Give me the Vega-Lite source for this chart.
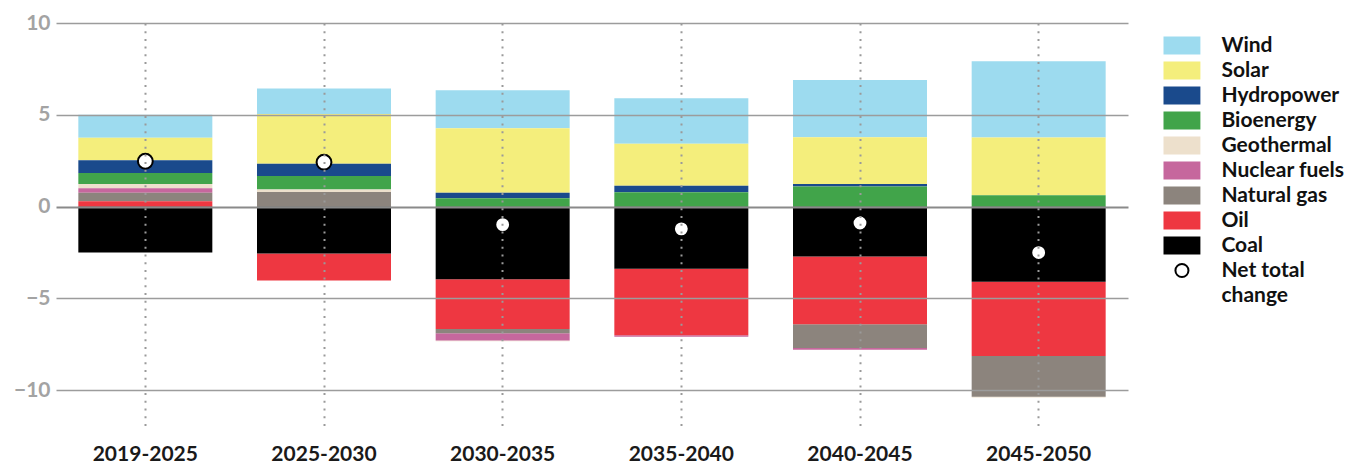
{
  "$schema": "https://vega.github.io/schema/vega-lite/v6.json",
  "width": 1072,
  "height": 404,
  "autosize": "none",
  "padding": {"left": 56, "top": 23, "right": 226, "bottom": 36},
  "background": "white",
  "config": {
    "view": {"stroke": null},
    "font": "Lato",
    "style": {"guide-label": {"lineHeight": 25}}
  },
  "encoding": {
    "x": {
      "field": "period",
      "type": "nominal",
      "scale": {
        "domain": ["2019-2025", "2025-2030", "2030-2035", "2035-2040", "2040-2045", "2045-2050"],
        "paddingInner": 0.25,
        "paddingOuter": 0.125
      },
      "axis": {
        "title": null,
        "orient": "bottom",
        "domain": false,
        "ticks": false,
        "labelAngle": 0,
        "labelFont": "Lato",
        "labelFontSize": 21,
        "labelFontWeight": "bold",
        "labelColor": "#1a1a1a",
        "labelPadding": 16,
        "grid": true,
        "bandPosition": 0.5,
        "gridColor": "#9a9a9a",
        "gridWidth": 2,
        "gridDash": [2, 5.7],
        "zindex": 1
      }
    },
    "color": {
      "type": "nominal",
      "scale": {
        "domain": ["Wind", "Solar", "Hydropower", "Bioenergy", "Geothermal", "Nuclear fuels", "Natural gas", "Oil", "Coal", "Net total change"],
        "range": ["#9ddbef", "#f4ee7c", "#1a4a8c", "#41a44a", "#ede0cc", "#c6679d", "#8c847d", "#ee3741", "#000000", "#ffffff"]
      },
      "legend": {
        "title": null,
        "orient": "none",
        "legendX": 1106,
        "legendY": 12,
        "padding": 0,
        "symbolType": "M-2.05,-1H2.05V1H-2.05Z",
        "symbolSize": 324,
        "symbolStrokeWidth": 0,
        "symbolOpacity": 1,
        "symbolOffset": 9.45,
        "labelOffset": 29,
        "labelFont": "Lato",
        "labelFontSize": 21,
        "labelFontWeight": "bold",
        "labelColor": "#111111",
        "labelLimit": 300,
        "rowPadding": 3,
        "labelExpr": "datum.label === 'Net total change' ? ['Net total', 'change'] : datum.label",
        "encode": {
          "symbols": {
            "update": {
              "shape": {"signal": "datum.value === 'Net total change' ? 'circle' : 'M-2.05,-1H2.05V1H-2.05Z'"},
              "size": {"signal": "datum.value === 'Net total change' ? 170 : 324"},
              "stroke": {"signal": "datum.value === 'Net total change' ? 'black' : 'transparent'"},
              "strokeWidth": {"signal": "datum.value === 'Net total change' ? 2 : 0"},
              "opacity": {"value": 1},
              "fillOpacity": {"value": 1},
              "strokeOpacity": {"value": 1}
            }
          }
        }
      }
    }
  },
  "layer": [
    {
      "data": {
        "values": [
          {"period": "2019-2025", "source": "Wind", "value": 1.25},
          {"period": "2019-2025", "source": "Solar", "value": 1.22},
          {"period": "2019-2025", "source": "Hydropower", "value": 0.7},
          {"period": "2019-2025", "source": "Bioenergy", "value": 0.6},
          {"period": "2019-2025", "source": "Geothermal", "value": 0.23},
          {"period": "2019-2025", "source": "Nuclear fuels", "value": 0.25},
          {"period": "2019-2025", "source": "Natural gas", "value": 0.45},
          {"period": "2019-2025", "source": "Oil", "value": 0.3},
          {"period": "2019-2025", "source": "Coal", "value": -2.5},
          {"period": "2025-2030", "source": "Wind", "value": 1.38},
          {"period": "2025-2030", "source": "Solar", "value": 2.71},
          {"period": "2025-2030", "source": "Hydropower", "value": 0.67},
          {"period": "2025-2030", "source": "Bioenergy", "value": 0.74},
          {"period": "2025-2030", "source": "Geothermal", "value": 0.13},
          {"period": "2025-2030", "source": "Natural gas", "value": 0.8},
          {"period": "2025-2030", "source": "Oil", "value": -1.47},
          {"period": "2025-2030", "source": "Coal", "value": -2.55},
          {"period": "2030-2035", "source": "Wind", "value": 2.07},
          {"period": "2030-2035", "source": "Solar", "value": 3.51},
          {"period": "2030-2035", "source": "Hydropower", "value": 0.31},
          {"period": "2030-2035", "source": "Bioenergy", "value": 0.45},
          {"period": "2030-2035", "source": "Geothermal", "value": -0.04},
          {"period": "2030-2035", "source": "Nuclear fuels", "value": -0.39},
          {"period": "2030-2035", "source": "Natural gas", "value": -0.23},
          {"period": "2030-2035", "source": "Oil", "value": -2.71},
          {"period": "2030-2035", "source": "Coal", "value": -3.96},
          {"period": "2035-2040", "source": "Wind", "value": 2.47},
          {"period": "2035-2040", "source": "Solar", "value": 2.29},
          {"period": "2035-2040", "source": "Hydropower", "value": 0.36},
          {"period": "2035-2040", "source": "Bioenergy", "value": 0.78},
          {"period": "2035-2040", "source": "Nuclear fuels", "value": -0.07},
          {"period": "2035-2040", "source": "Oil", "value": -3.63},
          {"period": "2035-2040", "source": "Coal", "value": -3.38},
          {"period": "2040-2045", "source": "Wind", "value": 3.12},
          {"period": "2040-2045", "source": "Solar", "value": 2.55},
          {"period": "2040-2045", "source": "Hydropower", "value": 0.14},
          {"period": "2040-2045", "source": "Bioenergy", "value": 1.09},
          {"period": "2040-2045", "source": "Nuclear fuels", "value": -0.09},
          {"period": "2040-2045", "source": "Natural gas", "value": -1.3},
          {"period": "2040-2045", "source": "Oil", "value": -3.69},
          {"period": "2040-2045", "source": "Coal", "value": -2.71},
          {"period": "2045-2050", "source": "Wind", "value": 4.16},
          {"period": "2045-2050", "source": "Solar", "value": 3.14},
          {"period": "2045-2050", "source": "Bioenergy", "value": 0.62},
          {"period": "2045-2050", "source": "Geothermal", "value": -0.05},
          {"period": "2045-2050", "source": "Natural gas", "value": -2.21},
          {"period": "2045-2050", "source": "Oil", "value": -4.05},
          {"period": "2045-2050", "source": "Coal", "value": -4.09}
        ]
      },
      "transform": [
        {"calculate": "indexof(['Coal','Oil','Natural gas','Nuclear fuels','Geothermal','Bioenergy','Hydropower','Solar','Wind'], datum.source)", "as": "ord"}
      ],
      "mark": {"type": "bar", "opacity": 1},
      "encoding": {
        "y": {
          "field": "value",
          "type": "quantitative",
          "stack": "zero",
          "scale": {"domain": [-12, 10], "nice": false, "zero": false},
          "axis": {
            "title": null,
            "domain": false,
            "ticks": false,
            "values": [-10, -5, 0, 5, 10],
            "labelFont": "Lato",
            "labelFontSize": 21,
            "labelFontWeight": "bold",
            "labelColor": "#a3a3a3",
            "labelPadding": 6,
            "grid": true,
            "gridColor": {"condition": {"test": "datum.value === 0", "value": "#8a8a8a"}, "value": "#9c9c9c"},
            "gridWidth": {"condition": {"test": "datum.value === 0", "value": 2}, "value": 1.5},
            "zindex": 1
          }
        },
        "color": {"field": "source"},
        "order": {"field": "ord", "type": "quantitative"}
      }
    },
    {
      "data": {
        "values": [
          {"period": "2019-2025", "net": 2.47},
          {"period": "2025-2030", "net": 2.42},
          {"period": "2030-2035", "net": -0.98},
          {"period": "2035-2040", "net": -1.21},
          {"period": "2040-2045", "net": -0.89},
          {"period": "2045-2050", "net": -2.5}
        ]
      },
      "mark": {"type": "point", "filled": true, "shape": "circle", "stroke": "black", "strokeWidth": 2, "size": 220, "opacity": 1},
      "encoding": {
        "y": {"field": "net", "type": "quantitative", "stack": null},
        "color": {"datum": "Net total change"}
      }
    }
  ]
}
